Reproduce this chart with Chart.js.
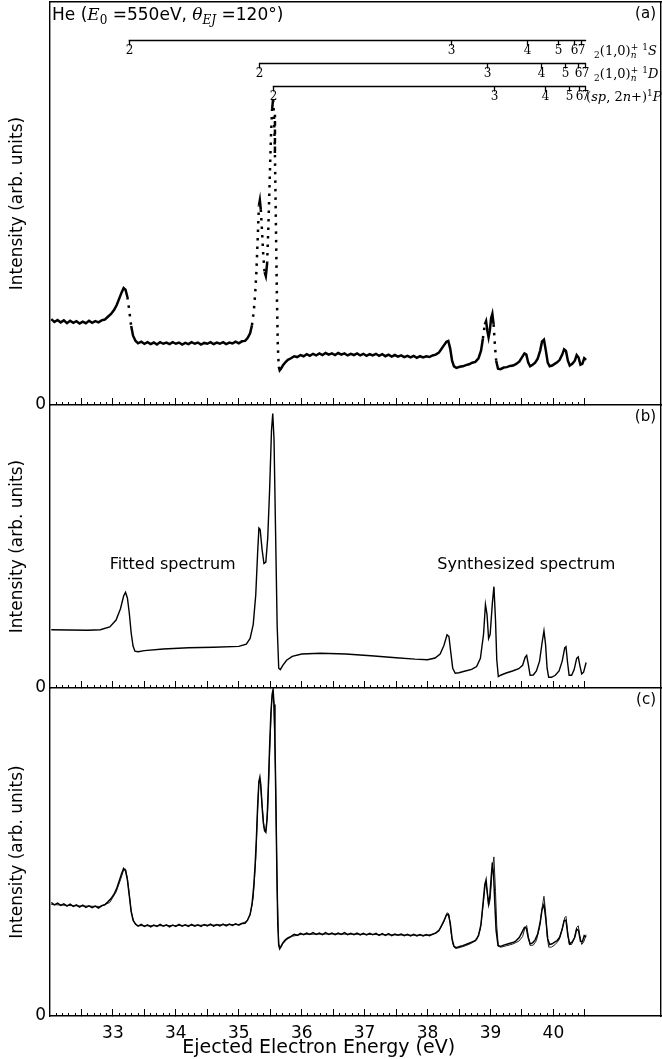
<!DOCTYPE html>
<html><head><meta charset="utf-8">
<script src="https://cdn.jsdelivr.net/npm/chart.js@4.4.0/dist/chart.umd.min.js"></script>
<style>
html,body{margin:0;padding:0;background:#fff;width:662px;height:1059px;overflow:hidden;}
.p{position:absolute;left:0;}
canvas{display:block;}
</style></head><body>
<div class="p" style="top:0px"><canvas id="ca" width="662" height="410"></canvas></div>
<div class="p" style="top:403px"><canvas id="cb" width="662" height="290"></canvas></div>
<div class="p" style="top:686px"><canvas id="cc" width="662" height="373"></canvas></div>
<script>
// ---------------- DATA ----------------
const xTickLabels = [33, 34, 35, 36, 37, 38, 39, 40];
const xMajorTicks = [32.5, 33, 33.5, 34, 34.5, 35, 35.5, 36, 36.5, 37, 37.5, 38, 38.5, 39, 39.5, 40, 40.5];
const yTickLabels = [0];

// Panel (a): measured spectrum [energy eV, intensity arb.]
const measuredA = [
[32.02,21.3],[32.07,20.6],[32.12,21.1],[32.17,20.5],[32.22,21.0],[32.27,20.3],[32.32,20.9],[32.37,20.4],[32.42,20.8],[32.47,20.2],
[32.52,20.7],[32.57,20.3],[32.62,20.9],[32.67,20.4],[32.72,20.8],[32.77,20.5],[32.82,21.0],[32.87,21.2],[32.92,21.9],[32.97,22.6],
[33.02,23.6],[33.06,24.8],[33.10,26.4],[33.14,28.0],[33.17,29.0],[33.20,28.6],[33.23,26.8],[33.26,23.4],[33.29,19.6],[33.32,17.2],
[33.36,15.9],[33.40,15.3],[33.45,15.7],[33.50,15.2],[33.55,15.6],[33.60,15.1],[33.65,15.5],[33.70,15.0],[33.75,15.6],[33.80,15.2],
[33.85,15.5],[33.90,15.1],[33.95,15.6],[34.00,15.2],[34.05,15.5],[34.10,15.0],[34.15,15.4],[34.20,15.1],[34.25,15.6],[34.30,15.2],
[34.35,15.5],[34.40,15.0],[34.45,15.4],[34.50,15.2],[34.55,15.6],[34.60,15.1],[34.65,15.5],[34.70,15.2],[34.75,15.6],[34.80,15.1],
[34.85,15.5],[34.90,15.3],[34.95,15.7],[35.00,15.3],[35.05,15.8],[35.10,15.9],[35.14,16.6],[35.18,17.8],[35.21,19.8],[35.24,23.5],
[35.26,27.5],[35.28,33.0],[35.30,41.0],[35.32,49.5],[35.335,50.8],[35.35,48.5],[35.37,43.0],[35.39,37.0],[35.41,33.0],[35.43,32.0],
[35.45,35.0],[35.47,44.0],[35.49,55.0],[35.51,66.0],[35.53,73.5],[35.545,75.8],[35.56,72.0],[35.575,62.0],[35.59,45.0],[35.605,28.0],
[35.62,15.0],[35.635,9.5],[35.65,8.6],[35.67,9.0],[35.70,9.8],[35.74,10.6],[35.78,11.2],[35.83,11.6],[35.88,12.1],[35.93,11.9],
[35.98,12.4],[36.03,12.1],[36.08,12.6],[36.13,12.2],[36.18,12.7],[36.23,12.3],[36.28,12.8],[36.33,12.4],[36.38,12.9],[36.43,12.5],
[36.48,12.8],[36.53,12.4],[36.58,12.9],[36.63,12.5],[36.68,12.8],[36.73,12.3],[36.78,12.7],[36.83,12.4],[36.88,12.8],[36.93,12.3],
[36.98,12.7],[37.03,12.2],[37.08,12.6],[37.13,12.3],[37.18,12.7],[37.23,12.2],[37.28,12.6],[37.33,12.1],[37.38,12.5],[37.43,12.0],
[37.48,12.4],[37.53,12.0],[37.58,12.3],[37.63,11.9],[37.68,12.2],[37.73,11.8],[37.78,12.2],[37.83,11.7],[37.88,12.1],[37.93,11.8],
[37.98,12.1],[38.03,11.9],[38.08,12.3],[38.13,12.5],[38.18,13.0],[38.22,13.9],[38.26,14.8],[38.30,15.7],[38.33,15.9],[38.36,14.0],
[38.39,11.0],[38.42,9.6],[38.46,9.2],[38.51,9.5],[38.56,9.6],[38.61,9.9],[38.66,10.1],[38.71,10.5],[38.76,10.7],[38.81,11.6],
[38.85,13.5],[38.88,16.5],[38.91,20.0],[38.93,20.8],[38.95,18.5],[38.97,16.8],[38.99,18.5],[39.01,21.5],[39.03,22.6],[39.05,20.0],
[39.07,15.0],[39.09,11.0],[39.12,9.0],[39.16,8.9],[39.21,9.3],[39.26,9.4],[39.31,9.7],[39.36,9.8],[39.41,10.2],[39.46,10.8],
[39.50,11.8],[39.54,12.8],[39.57,12.5],[39.60,10.5],[39.63,9.6],[39.67,10.0],[39.71,10.5],[39.75,11.5],[39.79,13.5],[39.82,15.8],
[39.85,16.2],[39.88,13.5],[39.91,10.5],[39.94,9.6],[39.98,9.8],[40.02,10.2],[40.06,10.6],[40.10,11.2],[40.14,12.5],[40.17,13.8],
[40.20,13.4],[40.23,11.0],[40.26,9.8],[40.30,10.2],[40.34,11.0],[40.37,12.4],[40.40,11.8],[40.43,10.0],[40.46,10.2],[40.49,11.6],
[40.52,11.2]
];

// Panel (b): fitted / synthesized spectrum
const fittedB = [
[32.02,20.6],[32.3,20.5],[32.6,20.4],[32.8,20.6],[32.95,21.6],[33.05,24.0],[33.12,28.0],[33.17,32.5],[33.20,33.8],[33.23,31.8],
[33.26,26.5],[33.29,19.5],[33.32,14.8],[33.35,13.0],[33.40,12.8],[33.50,13.2],[33.80,13.8],[34.20,14.2],[34.60,14.4],[35.00,14.7],
[35.12,15.5],[35.18,17.5],[35.23,22.5],[35.27,33.0],[35.30,48.0],[35.32,56.5],[35.34,56.0],[35.37,49.0],[35.40,44.0],[35.43,44.5],
[35.46,53.0],[35.49,70.0],[35.52,91.0],[35.54,97.0],[35.56,88.0],[35.585,55.0],[35.61,22.0],[35.635,7.0],[35.66,6.5],[35.70,8.0],
[35.76,9.8],[35.85,11.2],[36.00,12.0],[36.30,12.3],[36.70,12.0],[37.10,11.4],[37.50,10.7],[37.80,10.2],[38.00,10.0],[38.12,10.6],
[38.20,12.0],[38.26,15.0],[38.31,18.8],[38.34,18.2],[38.37,12.5],[38.40,7.0],[38.44,5.2],[38.50,5.4],[38.60,6.0],[38.70,6.6],
[38.78,7.6],[38.84,10.5],[38.89,19.0],[38.92,29.5],[38.945,26.0],[38.97,17.5],[38.995,19.0],[39.03,30.0],[39.055,35.8],[39.08,24.0],
[39.10,10.0],[39.125,4.0],[39.17,4.6],[39.25,5.3],[39.35,6.0],[39.45,6.8],[39.51,8.0],[39.55,10.8],[39.575,11.5],[39.60,8.5],
[39.63,4.5],[39.68,4.6],[39.73,6.0],[39.78,9.5],[39.82,16.0],[39.85,20.2],[39.875,15.5],[39.90,7.0],[39.925,3.8],[39.97,3.8],
[40.03,4.5],[40.09,6.0],[40.14,9.5],[40.18,14.2],[40.20,14.6],[40.225,9.0],[40.25,4.5],[40.29,4.5],[40.33,6.5],[40.37,10.5],
[40.395,11.0],[40.42,8.0],[40.45,5.0],[40.48,5.6],[40.52,9.0]
];

// Panel (c): measured spectrum
const measuredC = [
[32.02,34.6],[32.07,33.9],[32.12,34.4],[32.17,33.7],[32.22,34.2],[32.27,33.5],[32.32,34.1],[32.37,33.4],[32.42,33.9],[32.47,33.2],
[32.52,33.8],[32.57,33.1],[32.62,33.6],[32.67,33.0],[32.72,33.5],[32.77,32.9],[32.82,33.6],[32.87,33.9],[32.92,34.8],[32.97,35.8],
[33.02,37.2],[33.06,38.9],[33.10,41.2],[33.14,43.5],[33.17,45.0],[33.20,44.3],[33.23,41.5],[33.26,36.8],[33.29,31.8],[33.32,29.2],
[33.36,28.0],[33.40,27.4],[33.45,27.9],[33.50,27.3],[33.55,27.8],[33.60,27.2],[33.65,27.7],[33.70,27.3],[33.75,27.9],[33.80,27.4],
[33.85,27.8],[33.90,27.2],[33.95,27.7],[34.00,27.3],[34.05,27.9],[34.10,27.4],[34.15,27.8],[34.20,27.3],[34.25,27.9],[34.30,27.4],
[34.35,27.8],[34.40,27.3],[34.45,27.9],[34.50,27.5],[34.55,28.0],[34.60,27.4],[34.65,27.9],[34.70,27.5],[34.75,28.0],[34.80,27.5],
[34.85,28.0],[34.90,27.6],[34.95,28.1],[35.00,27.7],[35.05,28.2],[35.10,28.3],[35.14,29.2],[35.18,31.0],[35.21,34.0],[35.24,40.0],
[35.26,46.0],[35.28,54.0],[35.30,64.0],[35.32,71.5],[35.335,72.8],[35.35,70.5],[35.37,64.0],[35.39,59.0],[35.41,56.5],[35.43,56.0],
[35.45,60.0],[35.47,70.0],[35.49,82.0],[35.51,92.0],[35.53,98.0],[35.545,99.5],[35.56,95.0],[35.575,84.0],[35.59,65.0],[35.605,45.0],
[35.62,28.0],[35.635,21.5],[35.65,20.5],[35.67,21.2],[35.70,22.3],[35.74,23.2],[35.78,23.8],[35.83,24.3],[35.88,24.9],[35.93,24.6],
[35.98,25.2],[36.03,24.8],[36.08,25.3],[36.13,24.9],[36.18,25.4],[36.23,24.9],[36.28,25.3],[36.33,24.8],[36.38,25.4],[36.43,24.9],
[36.48,25.3],[36.53,24.8],[36.58,25.3],[36.63,24.9],[36.68,25.4],[36.73,24.8],[36.78,25.2],[36.83,24.8],[36.88,25.3],[36.93,24.7],
[36.98,25.2],[37.03,24.7],[37.08,25.2],[37.13,24.8],[37.18,25.2],[37.23,24.6],[37.28,25.1],[37.33,24.6],[37.38,25.1],[37.43,24.5],
[37.48,25.0],[37.53,24.6],[37.58,25.0],[37.63,24.5],[37.68,24.9],[37.73,24.4],[37.78,24.9],[37.83,24.4],[37.88,24.8],[37.93,24.4],
[37.98,24.8],[38.03,24.5],[38.08,24.9],[38.13,25.3],[38.18,26.0],[38.22,27.5],[38.26,29.0],[38.30,30.8],[38.33,31.0],[38.36,28.5],
[38.39,23.5],[38.42,21.2],[38.46,20.8],[38.51,21.2],[38.56,21.4],[38.61,21.8],[38.66,22.2],[38.71,22.6],[38.76,23.0],[38.81,24.5],
[38.85,28.0],[38.88,34.0],[38.91,40.0],[38.93,41.5],[38.95,37.5],[38.97,34.2],[38.99,36.5],[39.01,42.0],[39.03,46.8],[39.05,43.0],
[39.07,34.0],[39.09,26.0],[39.12,21.5],[39.16,21.2],[39.21,21.6],[39.26,21.9],[39.31,22.2],[39.36,22.4],[39.41,23.0],[39.46,24.0],
[39.50,25.5],[39.54,27.0],[39.57,26.8],[39.60,23.8],[39.63,22.0],[39.67,22.3],[39.71,23.2],[39.75,25.0],[39.79,28.5],[39.82,32.5],
[39.85,34.0],[39.88,29.5],[39.91,23.5],[39.94,21.8],[39.98,22.0],[40.02,22.5],[40.06,23.0],[40.10,24.0],[40.14,26.5],[40.17,29.0],
[40.20,29.2],[40.23,24.5],[40.26,22.0],[40.30,22.6],[40.34,24.0],[40.37,26.5],[40.40,26.0],[40.43,22.8],[40.46,22.6],[40.49,24.5],
[40.52,24.0]
];

// Panel (c): fit overlaid on measurement
const fittedC = [
[32.02,34.0],[32.4,33.6],[32.8,33.4],[32.95,34.6],[33.05,37.8],[33.12,41.5],[33.17,44.5],[33.20,44.8],[33.23,42.0],[33.26,37.0],
[33.29,32.0],[33.33,28.8],[33.38,27.6],[33.5,27.5],[34.0,27.6],[34.5,27.7],[35.0,27.9],[35.12,28.8],[35.18,30.8],[35.23,36.0],
[35.27,48.0],[35.30,63.0],[35.32,71.5],[35.34,72.0],[35.37,64.5],[35.40,57.5],[35.43,56.5],[35.46,63.0],[35.49,80.0],[35.52,95.0],
[35.54,99.0],[35.56,95.0],[35.585,72.0],[35.61,38.0],[35.635,22.0],[35.66,20.6],[35.70,22.0],[35.76,23.3],[35.85,24.3],[36.0,24.9],
[36.5,25.0],[37.0,24.9],[37.5,24.7],[38.0,24.6],[38.12,25.2],[38.2,26.6],[38.26,28.8],[38.31,31.5],[38.34,31.0],[38.37,26.0],
[38.40,22.0],[38.44,20.6],[38.5,20.8],[38.6,21.4],[38.7,22.2],[38.78,23.2],[38.84,26.5],[38.89,35.0],[38.92,41.0],[38.945,38.5],
[38.97,33.5],[38.995,35.5],[39.03,45.0],[39.055,48.5],[39.08,38.0],[39.10,27.5],[39.125,21.2],[39.17,21.0],[39.25,21.4],[39.35,21.9],
[39.45,22.8],[39.51,24.2],[39.55,27.0],[39.575,27.6],[39.60,24.5],[39.63,21.5],[39.68,21.6],[39.73,23.0],[39.78,27.0],[39.82,33.0],
[39.85,36.5],[39.875,32.0],[39.90,24.5],[39.925,21.0],[39.97,21.0],[40.03,21.8],[40.09,23.2],[40.14,26.5],[40.18,30.0],[40.20,30.4],
[40.225,26.0],[40.25,21.8],[40.29,21.8],[40.33,23.5],[40.37,27.0],[40.395,27.5],[40.42,24.5],[40.45,21.8],[40.48,22.5],[40.52,24.8]
];

// Resonance level markers (energies, eV) for panel (a)
const levelNumbers = ['2', '3', '4', '5', '6', '7'];
const levels1S = [33.25, 38.37, 39.58, 40.07, 40.33, 40.44];
const levels1D = [35.32, 38.95, 39.80, 40.19, 40.39, 40.50];
const levels1P = [35.54, 39.06, 39.87, 40.25, 40.41, 40.50];
const seriesLimit = 40.52;
const levelRows = [90.6, 84.9, 79.2];   // heights of the marker bars in panel (a) units

// ---------------- CONFIG ----------------
const XMIN = 32.0, XMAX = 41.71;
const SANS = "'DejaVu Sans', sans-serif";
const SERIF = "'DejaVu Serif', serif";
const minorTicks = [];
for (let i = 1; i <= 85; i++) minorTicks.push(+(32 + i * 0.1).toFixed(2));

function pts(arr) { return arr.map(p => ({ x: p[0], y: p[1] })); }
function noPad(sc) { sc.paddingTop = 0; sc.paddingBottom = 0; sc.paddingLeft = 0; sc.paddingRight = 0; }

function xScales(showLabels, withTop) {
  const s = {
    xm: {
      type: 'linear', position: 'bottom', min: XMIN, max: XMAX, weight: 1,
      afterFit: sc => { sc.height = 0; noPad(sc); },
      afterBuildTicks: sc => { sc.ticks = minorTicks.map(v => ({ value: v })); },
      grid: { display: true, drawOnChartArea: false, drawTicks: true, tickLength: -3, tickColor: '#000', tickWidth: 1 },
      border: { display: false },
      ticks: { display: false }
    },
    x: {
      type: 'linear', position: 'bottom', min: XMIN, max: XMAX, weight: 2,
      afterFit: sc => { sc.height = showLabels ? 43 : 0; noPad(sc); },
      afterBuildTicks: sc => { sc.ticks = xMajorTicks.map(v => ({ value: v })); },
      grid: { display: true, drawOnChartArea: false, drawTicks: true, tickLength: -7, tickColor: '#000', tickWidth: 1 },
      border: { display: true, color: '#000', width: 1.4 },
      ticks: {
        display: showLabels, autoSkip: false, maxRotation: 0, padding: 14, color: '#000',
        font: { family: SANS, size: 17 },
        callback: v => xTickLabels.includes(v) ? String(v) : ''
      }
    },
    y: {
      type: 'linear', position: 'left', min: 0, max: 100,
      afterFit: sc => { sc.width = 50; noPad(sc); },
      afterBuildTicks: sc => { sc.ticks = yTickLabels.map(v => ({ value: v })); },
      grid: { display: false, drawTicks: false },
      border: { display: true, color: '#000', width: 1.4 },
      ticks: { color: '#000', font: { family: SANS, size: 17 }, padding: 4 },
      title: { display: true, text: 'Intensity (arb. units)', color: '#000', font: { family: SANS, size: 17 }, padding: { top: 7, bottom: 0 } }
    },
    yr: {
      type: 'linear', position: 'right', min: 0, max: 100,
      afterFit: sc => { sc.width = 0; noPad(sc); },
      grid: { display: false },
      border: { display: true, color: '#000', width: 1.4 },
      ticks: { display: false }
    }
  };
  if (withTop) {
    s.xt = {
      type: 'linear', position: 'top', min: XMIN, max: XMAX,
      afterFit: sc => { sc.height = 0; noPad(sc); },
      grid: { display: false },
      border: { display: true, color: '#000', width: 1.4 },
      ticks: { display: false }
    };
  }
  return s;
}

function drawRich(ctx, x, y, parts) {
  let cx = x;
  ctx.textAlign = 'left';
  ctx.textBaseline = 'alphabetic';
  for (const p of parts) {
    ctx.font = p.f;
    ctx.fillText(p.t, cx, y + (p.dy || 0));
    if (!p.stack) cx += ctx.measureText(p.t).width;
  }
  return cx;
}

function panelLabel(text) {
  return {
    id: 'panelLabel' + text,
    afterDraw(chart) {
      const ctx = chart.ctx, a = chart.chartArea;
      ctx.save();
      ctx.fillStyle = '#000';
      ctx.font = '15px ' + SANS;
      ctx.textAlign = 'right';
      ctx.textBaseline = 'middle';
      ctx.fillText(text, a.right - 5, a.top + 12);
      ctx.restore();
    }
  };
}

const S13 = '13px ' + SERIF, SI13 = 'italic 13px ' + SERIF, S9 = '9px ' + SERIF, SI9 = 'italic 9px ' + SERIF;
const rowLabels = [
  [{t:'2',f:S9,dy:3},{t:'(1,0)',f:S13},{t:'+',f:S9,dy:-5,stack:true},{t:'n',f:SI9,dy:3},{t:'  ',f:S9},{t:'1',f:S9,dy:-5},{t:'S',f:SI13}],
  [{t:'2',f:S9,dy:3},{t:'(1,0)',f:S13},{t:'+',f:S9,dy:-5,stack:true},{t:'n',f:SI9,dy:3},{t:'  ',f:S9},{t:'1',f:S9,dy:-5},{t:'D',f:SI13}],
  [{t:'(',f:S13},{t:'sp',f:SI13},{t:', 2',f:S13},{t:'n',f:SI13},{t:'+)',f:S13},{t:'1',f:S9,dy:-5},{t:'P',f:SI13}]
];
const rowLabelGap = [8, 8, 0];

const markersPlugin = {
  id: 'markers',
  afterDraw(chart) {
    const ctx = chart.ctx, xs = chart.scales.x, ys = chart.scales.y;
    ctx.save();
    ctx.strokeStyle = '#000';
    ctx.fillStyle = '#000';
    ctx.lineWidth = 1.3;
    [levels1S, levels1D, levels1P].forEach((lv, r) => {
      const yp = Math.round(ys.getPixelForValue(levelRows[r])) + 0.5;
      const x0 = xs.getPixelForValue(lv[0]), x1 = xs.getPixelForValue(seriesLimit);
      ctx.beginPath(); ctx.moveTo(x0, yp); ctx.lineTo(x1, yp); ctx.stroke();
      ctx.font = '12px ' + SERIF;
      ctx.textAlign = 'center'; ctx.textBaseline = 'top';
      lv.forEach((e, i) => {
        const xp = Math.round(xs.getPixelForValue(e)) + 0.5;
        ctx.beginPath(); ctx.moveTo(xp, yp); ctx.lineTo(xp, yp + 5); ctx.stroke();
        ctx.fillText(levelNumbers[i], xp, yp + 4);
      });
      drawRich(ctx, x1 + rowLabelGap[r], yp + 14, rowLabels[r]);
    });
    // title
    const T = '17px ' + SANS, TI = 'italic 17px ' + SERIF, TS = '12px ' + SERIF, TSI = 'italic 12px ' + SERIF;
    drawRich(ctx, chart.chartArea.left + 2, chart.chartArea.top + 18, [
      {t:'He (',f:T},{t:'E',f:TI},{t:'0',f:TS,dy:4},{t:' =550eV, ',f:T},{t:'θ',f:TI},{t:'EJ',f:TSI,dy:4},{t:' =120°)',f:T}
    ]);
    ctx.restore();
  }
};

const bTextPlugin = {
  id: 'btext',
  afterDraw(chart) {
    const ctx = chart.ctx, xs = chart.scales.x, ys = chart.scales.y;
    ctx.save();
    ctx.fillStyle = '#000';
    ctx.font = '16px ' + SANS;
    ctx.textAlign = 'center'; ctx.textBaseline = 'middle';
    ctx.fillText('Fitted spectrum', xs.getPixelForValue(33.95), ys.getPixelForValue(43.5));
    ctx.fillText('Synthesized spectrum', xs.getPixelForValue(39.57), ys.getPixelForValue(43.5));
    ctx.restore();
  }
};

const xTitlePlugin = {
  id: 'xtitle',
  afterDraw(chart) {
    const ctx = chart.ctx, xs = chart.scales.x;
    const mid = (measuredC[0][0] + measuredC[measuredC.length - 1][0]) / 2;
    ctx.save();
    ctx.fillStyle = '#000';
    ctx.font = '19px ' + SANS;
    ctx.textAlign = 'center'; ctx.textBaseline = 'middle';
    ctx.fillText('Ejected Electron Energy (eV)', xs.getPixelForValue(mid), chart.chartArea.bottom + 32);
    ctx.restore();
  }
};

const baseOpts = (padBottom, scales) => ({
  responsive: false, animation: false, devicePixelRatio: 1,
  layout: { padding: { top: 2, bottom: padBottom, left: 0, right: 1 } },
  plugins: { legend: { display: false }, tooltip: { enabled: false } },
  scales: scales,
  elements: { point: { radius: 0 }, line: { tension: 0 } }
});

new Chart(document.getElementById('ca'), {
  type: 'line',
  data: { datasets: [{
    data: pts(measuredA), borderColor: '#000', borderWidth: 2.5, fill: false, pointRadius: 0,
    segment: { borderDash: c => Math.abs(c.p1.parsed.y - c.p0.parsed.y) > 3 ? [2.5, 6] : undefined }
  }] },
  options: baseOpts(5, xScales(false, true)),
  plugins: [markersPlugin, panelLabel('(a)')]
});

new Chart(document.getElementById('cb'), {
  type: 'line',
  data: { datasets: [{ data: pts(fittedB), borderColor: '#000', borderWidth: 1.4, fill: false, pointRadius: 0 }] },
  options: baseOpts(5, xScales(false, false)),
  plugins: [bTextPlugin, panelLabel('(b)')]
});

new Chart(document.getElementById('cc'), {
  type: 'line',
  data: { datasets: [
    { data: pts(measuredC), borderColor: '#000', borderWidth: 1.5, fill: false, pointRadius: 0 },
    { data: pts(fittedC), borderColor: '#222', borderWidth: 1.0, fill: false, pointRadius: 0 }
  ] },
  options: baseOpts(0, xScales(true, false)),
  plugins: [xTitlePlugin, panelLabel('(c)')]
});
</script>
</body></html>
